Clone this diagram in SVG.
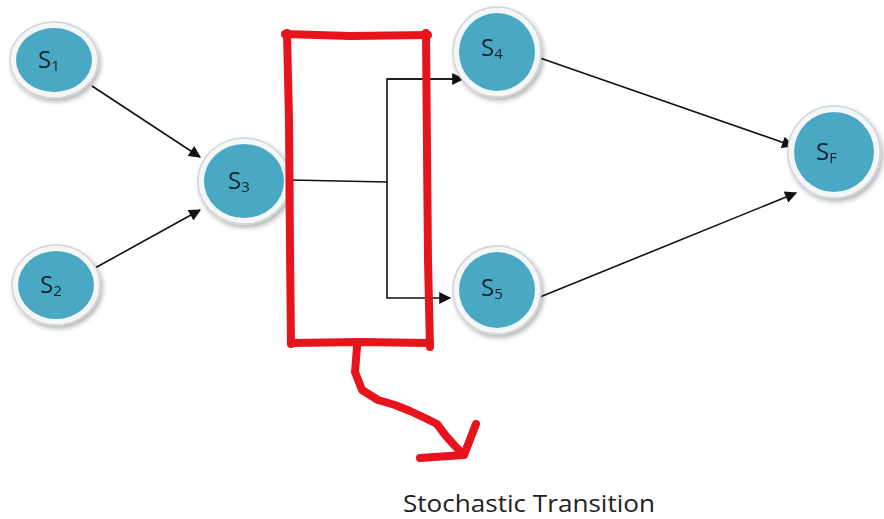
<svg xmlns="http://www.w3.org/2000/svg" width="884" height="519" viewBox="0 0 884 519">
<defs>
<style>
.ring{fill:#f4f6f7;stroke:#cfd6d9;stroke-width:1.5}
.core{fill:#4aa9c4}
.lbl{font-family:"Open Sans","Liberation Sans",sans-serif;font-size:24px;fill:#14222b}
.sub{font-size:15px}
.edge{stroke:#111;stroke-width:1.6;fill:none}
.red{stroke:#e8141c;stroke-width:8;fill:none;stroke-linecap:round;stroke-linejoin:round}
</style>
<marker id="ah2" viewBox="0 0 10 10" refX="9" refY="5" markerWidth="15" markerHeight="12" markerUnits="userSpaceOnUse" orient="auto">
<path d="M0,0 L10,5 L0,10 z" fill="#111"/>
</marker>
<filter id="sh" x="-20%" y="-20%" width="140%" height="140%">
<feGaussianBlur in="SourceAlpha" stdDeviation="2.5"/>
<feOffset dx="2" dy="3"/>
<feComponentTransfer><feFuncA type="linear" slope="0.3"/></feComponentTransfer>
<feMerge><feMergeNode/><feMergeNode in="SourceGraphic"/></feMerge>
</filter>
</defs>
<rect width="884" height="519" fill="#fff"/>
<g id="connectors">
<line class="edge" x1="92" y1="86" x2="200" y2="157" marker-end="url(#ah2)"/>
<line class="edge" x1="95" y1="268" x2="200" y2="210" marker-end="url(#ah2)"/>
<polyline class="edge" points="290,180 387,182"/>
<polyline class="edge" points="462,79 387,79 387,298 450,298" marker-end="url(#ah2)"/>
<line class="edge" x1="387" y1="79" x2="463" y2="79" marker-end="url(#ah2)"/>
<line class="edge" x1="540" y1="58" x2="793" y2="146" marker-end="url(#ah2)"/>
<line class="edge" x1="540" y1="297" x2="796" y2="193" marker-end="url(#ah2)"/>
</g>
<g id="S1" filter="url(#sh)">
<ellipse class="ring" cx="54" cy="60" rx="44" ry="38"/>
<ellipse class="core" cx="54" cy="60" rx="38" ry="32"/>
<text class="lbl" x="38" y="68">S<tspan class="sub" dy="3">1</tspan></text>
</g>
<g id="S2" filter="url(#sh)">
<ellipse class="ring" cx="56" cy="285" rx="44" ry="40"/>
<ellipse class="core" cx="56" cy="285" rx="38" ry="34"/>
<text class="lbl" x="40" y="293">S<tspan class="sub" dy="3">2</tspan></text>
</g>
<g id="S3" filter="url(#sh)">
<ellipse class="ring" cx="244" cy="181" rx="46" ry="43"/>
<ellipse class="core" cx="244" cy="181" rx="40" ry="37"/>
<text class="lbl" x="228" y="189">S<tspan class="sub" dy="3">3</tspan></text>
</g>
<g id="S4" filter="url(#sh)">
<ellipse class="ring" cx="497" cy="52" rx="44" ry="45"/>
<ellipse class="core" cx="497" cy="52" rx="38" ry="39"/>
<text class="lbl" x="481" y="56">S<tspan class="sub" dy="3">4</tspan></text>
</g>
<g id="S5" filter="url(#sh)">
<ellipse class="ring" cx="497" cy="290" rx="44" ry="44"/>
<ellipse class="core" cx="497" cy="290" rx="38" ry="38"/>
<text class="lbl" x="481" y="296">S<tspan class="sub" dy="3">5</tspan></text>
</g>
<g id="SF" filter="url(#sh)">
<ellipse class="ring" cx="834" cy="152" rx="46" ry="46"/>
<ellipse class="core" cx="834" cy="152" rx="40" ry="40"/>
<text class="lbl" x="816" y="160">S<tspan class="sub" dy="3">F</tspan></text>
</g>
<g id="stochastic-box">
<path class="red" d="M287,33 L289,120 L290,250 L291,344"/>
<path class="red" d="M285,34 L350,36 L428,35"/>
<path class="red" d="M426,33 L427,150 L428,260 L430,347"/>
<path class="red" d="M292,343 L360,342 L430,343"/>
<path class="red" d="M357,347 L355,372 L362,390 L378,400 L395,405 L410,411 L425,418 L437,424 L446,436 L455,446 L464,455"/>
<path class="red" d="M420,458 L464,455 L476,424"/>
</g>
<text x="403" y="512" font-family="'Open Sans','Liberation Sans',sans-serif" font-size="24" fill="#222" textLength="252" lengthAdjust="spacingAndGlyphs">Stochastic  Transition</text>
</svg>
